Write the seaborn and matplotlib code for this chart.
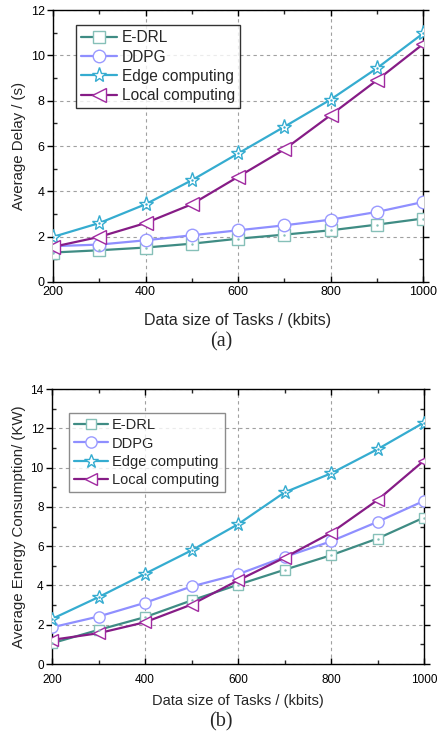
import numpy as np
import pandas as pd
import matplotlib
matplotlib.use("Agg")
import matplotlib.pyplot as plt
from matplotlib.ticker import MultipleLocator
import seaborn as sns

sns.set_theme(style="white")
plt.rcParams["font.family"] = ["Liberation Sans", "DejaVu Sans"]

sizes = [200, 300, 400, 500, 600, 700, 800, 900, 1000]
methods = ["E-DRL", "DDPG", "Edge computing", "Local computing"]

delay_edrl = [1.30, 1.40, 1.52, 1.69, 1.91, 2.09, 2.28, 2.53, 2.80]
delay_ddpg = [1.58, 1.65, 1.84, 2.06, 2.28, 2.50, 2.75, 3.09, 3.53]
delay_edge = [1.99, 2.60, 3.43, 4.49, 5.67, 6.85, 8.05, 9.43, 10.97]
delay_local = [1.55, 1.99, 2.60, 3.43, 4.64, 5.85, 7.36, 8.90, 10.50]

energy_edrl = [1.06, 1.74, 2.39, 3.24, 4.04, 4.80, 5.54, 6.39, 7.46]
energy_ddpg = [1.87, 2.42, 3.12, 3.95, 4.57, 5.45, 6.25, 7.24, 8.31]
energy_edge = [2.30, 3.41, 4.60, 5.79, 7.12, 8.74, 9.71, 10.94, 12.30]
energy_local = [1.23, 1.57, 2.13, 3.03, 4.26, 5.42, 6.68, 8.35, 10.36]

line_cols = {"E-DRL": "#3f8c84", "DDPG": "#8f8fff",
             "Edge computing": "#35acd0", "Local computing": "#861c86"}
edge_cols = {"E-DRL": "#86c0b8", "DDPG": "#9a9aff",
             "Edge computing": "#35acd0", "Local computing": "#a02aa0"}
marks = {"E-DRL": "s", "DDPG": "o", "Edge computing": "*", "Local computing": "<"}
msizes = {"E-DRL": 8, "DDPG": 9, "Edge computing": 11, "Local computing": 10}


def make_df(vals):
    rows = []
    for m, v in zip(methods, vals):
        for x, y in zip(sizes, v):
            rows.append({"size": x, "method": m, "value": y})
    return pd.DataFrame(rows)


def draw(ax, df, ymax, ylabel, legend_edge, legend_box, fs_leg, fs_tick,
         fs_lab, tick_pad, lab_pad, lab_space, ms_scale):
    for m in methods:
        sub = df[df["method"] == m]
        sns.lineplot(data=sub, x="size", y="value", ax=ax, label=m,
                     color=line_cols[m], lw=1.6, marker=marks[m],
                     markersize=msizes[m] * ms_scale, markerfacecolor="white",
                     markeredgecolor=edge_cols[m], markeredgewidth=1.0,
                     zorder=3)
        if m in ("E-DRL", "Edge computing"):
            ax.plot(sub["size"], sub["value"], ls="none", marker=".",
                    markersize=1.5, color=edge_cols[m], zorder=4)
    ax.set_xlim(200, 1000)
    ax.set_ylim(0, ymax)
    ax.xaxis.set_major_locator(MultipleLocator(200))
    ax.xaxis.set_minor_locator(MultipleLocator(100))
    ax.yaxis.set_major_locator(MultipleLocator(2))
    ax.yaxis.set_minor_locator(MultipleLocator(1))
    ax.grid(True, which="major", color="#a0a0a0", ls=(0, (3, 3)), lw=0.8)
    ax.tick_params(which="major", direction="in", length=4, width=1,
                   labelsize=fs_tick, colors="black", pad=tick_pad,
                   left=True, bottom=True, top=True, right=True)
    ax.tick_params(axis="y", which="major", direction="out", length=4, pad=2)
    ax.tick_params(which="minor", direction="in", length=3, width=1,
                   left=True, bottom=True, right=True, top=True)
    for s in ax.spines.values():
        s.set_color("black")
        s.set_linewidth(1.0)
    ax.set_xlabel("Data size of Tasks / (kbits)", fontsize=fs_lab,
                  labelpad=lab_pad)
    ax.set_ylabel(ylabel, fontsize=10.8, labelpad=3)
    leg = ax.legend(loc="upper left", bbox_to_anchor=legend_box, fontsize=fs_leg,
                    frameon=True, fancybox=False, handlelength=2.3,
                    handletextpad=0.3, borderpad=0.35, labelspacing=lab_space,
                    borderaxespad=0)
    leg.get_frame().set_edgecolor(legend_edge)
    leg.get_frame().set_linewidth(1.0)


fig = plt.figure(figsize=(4.38, 7.33), dpi=100)
ax1 = fig.add_axes([0.121, 0.6153, 0.845, 0.371])
ax2 = fig.add_axes([0.119, 0.0941, 0.849, 0.375])

draw(ax1, make_df([delay_edrl, delay_ddpg, delay_edge, delay_local]), 12,
     "Average Delay / (s)", "black", (0.062, 0.945), 11.2, 9, 11.5, 3, 11,
     0.27, 1.0)
draw(ax2, make_df([energy_edrl, energy_ddpg, energy_edge, energy_local]), 14,
     "Average Energy Consumption/ (KW)", "#707070", (0.046, 0.913), 10.5, 8.5,
     10.5, 7, 6, 0.3, 0.9)

fig.text(0.505, 1 - 342 / 733, "(a)", ha="center", va="center",
         fontsize=14.5, family=["Liberation Serif", "DejaVu Serif"])
fig.text(0.505, 1 - 722 / 733, "(b)", ha="center", va="center",
         fontsize=14.5, family=["Liberation Serif", "DejaVu Serif"])

fig.savefig("out.png", dpi=100)
